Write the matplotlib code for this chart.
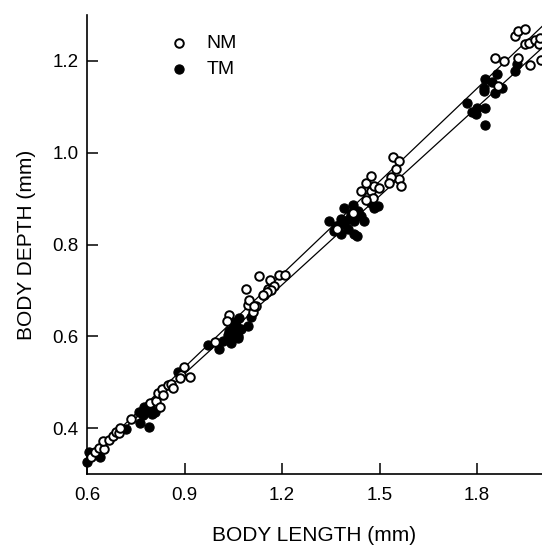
import numpy as np
import matplotlib.pyplot as plt

plt.rcParams['font.family'] = ['Liberation Sans', 'DejaVu Sans']

# NM (open circles)
nm_x = [0.612, 0.625, 0.636, 0.653, 0.648, 0.667, 0.679, 0.689, 0.699, 0.702,
        0.735, 0.795, 0.812, 0.826, 0.817, 0.831, 0.833, 0.850, 0.858, 0.864,
        0.889, 0.886, 0.899, 0.918,
        0.995, 1.036, 1.031, 1.090, 1.094, 1.110, 1.120, 1.146, 1.156, 1.130,
        1.192, 1.210, 1.164, 1.174, 1.166, 1.154, 1.141, 1.099, 1.113,
        1.369, 1.418, 1.443, 1.474, 1.484, 1.458, 1.474, 1.499, 1.479, 1.458,
        1.540, 1.561, 1.551, 1.561, 1.535, 1.530, 1.566,
        1.866, 1.856, 1.884, 1.925, 1.964, 1.998, 1.949, 1.959, 1.979, 1.990,
        1.918, 1.925, 1.949, 1.995]
nm_y = [0.338, 0.349, 0.357, 0.354, 0.371, 0.374, 0.383, 0.392, 0.389, 0.400,
        0.420, 0.454, 0.458, 0.447, 0.476, 0.486, 0.472, 0.494, 0.497, 0.488,
        0.516, 0.509, 0.534, 0.511,
        0.588, 0.647, 0.633, 0.702, 0.669, 0.654, 0.665, 0.691, 0.702, 0.731,
        0.734, 0.734, 0.722, 0.710, 0.700, 0.696, 0.689, 0.680, 0.665,
        0.833, 0.869, 0.917, 0.917, 0.927, 0.935, 0.949, 0.924, 0.902, 0.898,
        0.990, 0.982, 0.964, 0.942, 0.946, 0.935, 0.927,
        1.146, 1.207, 1.199, 1.207, 1.191, 1.202, 1.237, 1.239, 1.245, 1.237,
        1.255, 1.266, 1.269, 1.250]

# TM (filled circles)
tm_x = [0.600, 0.607, 0.639, 0.720, 0.759, 0.764, 0.771, 0.782, 0.792, 0.795,
        0.809, 0.792, 0.879, 0.776, 0.801,
        0.973, 1.007, 1.033, 1.046, 1.053, 1.066, 1.069, 1.058, 1.096, 1.105,
        1.043, 1.017, 1.048, 1.064, 1.038, 1.056, 1.074,
        1.346, 1.366, 1.382, 1.392, 1.418, 1.433, 1.453, 1.422, 1.402, 1.382,
        1.422, 1.484, 1.494, 1.474, 1.431, 1.405, 1.361, 1.412, 1.442, 1.392,
        1.769, 1.785, 1.800, 1.797, 1.821, 1.826, 1.824, 1.826, 1.821, 1.846,
        1.862, 1.856, 1.877, 1.916, 1.923]
tm_y = [0.327, 0.349, 0.336, 0.398, 0.436, 0.412, 0.429, 0.438, 0.403, 0.443,
        0.436, 0.451, 0.523, 0.445, 0.430,
        0.580, 0.573, 0.603, 0.614, 0.600, 0.596, 0.640, 0.625, 0.622, 0.643,
        0.585, 0.589, 0.618, 0.600, 0.612, 0.632, 0.615,
        0.851, 0.840, 0.855, 0.880, 0.887, 0.873, 0.851, 0.851, 0.833, 0.822,
        0.822, 0.880, 0.884, 0.891, 0.818, 0.855, 0.830, 0.866, 0.862, 0.845,
        1.109, 1.088, 1.098, 1.084, 1.135, 1.098, 1.060, 1.160, 1.142, 1.153,
        1.171, 1.131, 1.142, 1.179, 1.193]

# regression lines (intercept, slope)
nm_fit = (-0.075, 0.675)
tm_fit = (-0.062, 0.645)
line_x = np.array([0.6, 2.0])

fig = plt.figure(figsize=(5.42, 5.5), dpi=100)
ax = fig.add_axes([87 / 542, 76 / 550, 455 / 542, 459 / 550])

ax.plot(line_x, nm_fit[0] + nm_fit[1] * line_x, color='black', lw=0.9, zorder=1)
ax.plot(line_x, tm_fit[0] + tm_fit[1] * line_x, color='black', lw=0.9, zorder=1)

ax.scatter(tm_x, tm_y, s=44, facecolors='black', edgecolors='black',
           linewidths=0.8, zorder=2, label='TM', clip_on=False)
ax.scatter(nm_x, nm_y, s=38, facecolors='white', edgecolors='black',
           linewidths=1.4, zorder=3, label='NM', clip_on=False)

ax.set_xlim(0.6, 2.0)
ax.set_ylim(0.3, 1.3)
ax.set_xticks([0.6, 0.9, 1.2, 1.5, 1.8])
ax.set_yticks([0.4, 0.6, 0.8, 1.0, 1.2])
ax.set_xticklabels(['0.6', '0.9', '1.2', '1.5', '1.8'])
ax.set_yticklabels(['0.4', '0.6', '0.8', '1.0', '1.2'])

for s in ['top', 'right']:
    ax.spines[s].set_visible(False)
for s in ['left', 'bottom']:
    ax.spines[s].set_linewidth(1.2)

ax.tick_params(axis='both', direction='in', length=8, width=1.1, labelsize=13.5)
ax.tick_params(axis='x', pad=9)
ax.tick_params(axis='y', pad=6)

ax.set_xlabel('BODY LENGTH (mm)', fontsize=15, labelpad=16)
ax.set_ylabel('BODY DEPTH (mm)', fontsize=15, labelpad=12)

handles, labels = ax.get_legend_handles_labels()
ax.legend(handles[::-1], labels[::-1], loc='upper left',
          bbox_to_anchor=(0.182, 0.958), frameon=False, fontsize=14,
          handlelength=0.9, handletextpad=1.0, labelspacing=0.45,
          borderpad=0, borderaxespad=0)

fig.savefig('out.png', dpi=100)
